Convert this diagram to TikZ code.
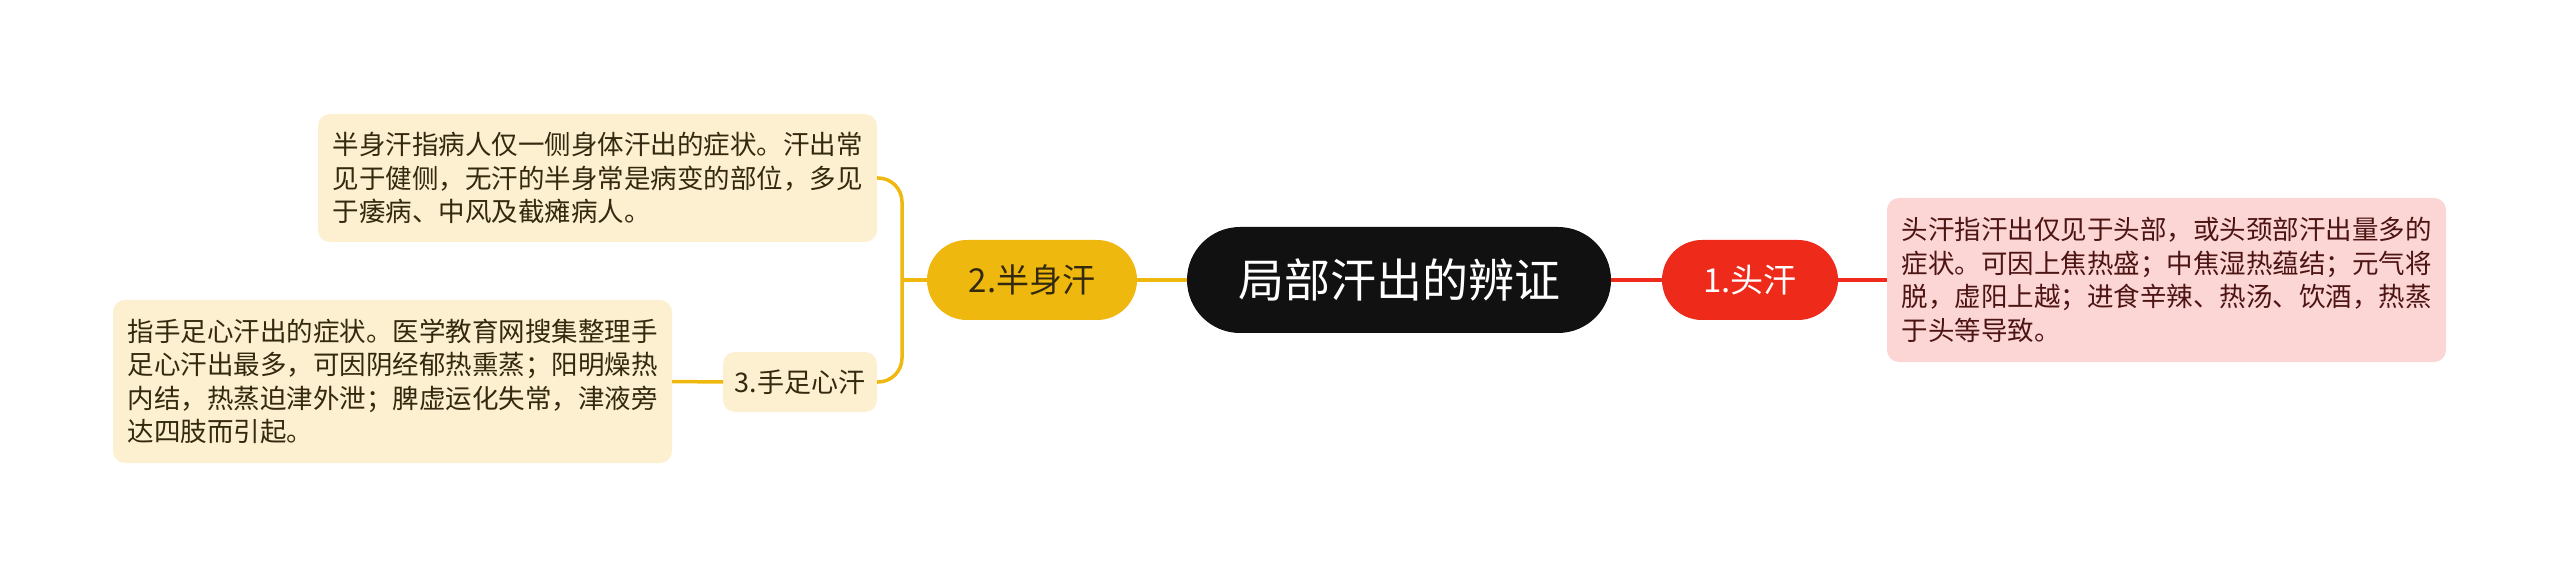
\documentclass[tikz,border=0pt]{standalone}
\usepackage{fontspec}
\setmainfont{Noto Sans CJK SC}
\usetikzlibrary{positioning}

\definecolor{rootblack}{HTML}{111111}
\definecolor{redbranch}{HTML}{EE2A1A}
\definecolor{redleaf}{HTML}{FCD6D4}
\definecolor{redtext}{HTML}{4D1414}
\definecolor{yellowbranch}{HTML}{EFB80E}
\definecolor{yellowleaf}{HTML}{FDF0D0}
\definecolor{yellowtext}{HTML}{33290F}

\begin{document}
\begin{tikzpicture}[x=1pt, y=-1pt,
  every node/.style={inner sep=0pt, outer sep=0pt},
  rootnode/.style={fill=rootblack, text=white, rounded corners=53pt, minimum width=424pt, minimum height=106pt, font=\fontsize{46}{52}\selectfont},
  mainnode/.style={rounded corners=40pt, minimum height=80pt, font=\fontsize{33}{38}\selectfont},
  subnode/.style={fill=yellowleaf, text=yellowtext, rounded corners=12pt, minimum width=154pt, minimum height=60pt, font=\fontsize{27}{32}\selectfont},
  leafbox/.style={rounded corners=12pt, minimum width=559pt, align=left, font=\fontsize{26.5}{33.5}\selectfont},
  redline/.style={draw=redbranch, line width=3.5pt},
  yellowline/.style={draw=yellowbranch, line width=3.5pt}]
  \useasboundingbox (0,0) rectangle (2560,577);

  \node[rootnode] (root) at (1399,280) {局部汗出的辨证};

  \node[mainnode, fill=redbranch, text=white, minimum width=176pt] (head) at (1750,280) {1.头汗};
  \node[leafbox, fill=redleaf, text=redtext, minimum height=164pt] (headtext) at (2166.5,280)
    {头汗指汗出仅见于头部，或头颈部汗出量多的\\
     症状。可因上焦热盛；中焦湿热蕴结；元气将\\
     脱，虚阳上越；进食辛辣、热汤、饮酒，热蒸\\
     于头等导致。};

  \node[mainnode, fill=yellowbranch, text=yellowtext, minimum width=210pt] (half) at (1032,280) {2.半身汗};
  \node[leafbox, fill=yellowleaf, text=yellowtext, minimum height=128pt] (halftext) at (597.5,178)
    {半身汗指病人仅一侧身体汗出的症状。汗出常\\
     见于健侧，无汗的半身常是病变的部位，多见\\
     于痿病、中风及截瘫病人。};

  \node[subnode] (palm) at (800,382) {3.手足心汗};
  \node[leafbox, fill=yellowleaf, text=yellowtext, minimum height=163pt] (palmtext) at (392.5,381.5)
    {指手足心汗出的症状。医学教育网搜集整理手\\
     足心汗出最多，可因阴经郁热熏蒸；阳明燥热\\
     内结，热蒸迫津外泄；脾虚运化失常，津液旁\\
     达四肢而引起。};

  \coordinate (fork) at ([xshift=-25pt]half.west);

  \draw[redline] (root.east) -- (head.west);
  \draw[redline] (head.east) -- (headtext.west);
  \draw[yellowline] (root.west) -- (half.east);
  \draw[yellowline] (half.west) -- (fork);
  \draw[yellowline, rounded corners=24pt] (halftext.east) -| (fork) |- (palm.east);
  \draw[yellowline] (palm.west) -- (palmtext.east);
\end{tikzpicture}
\end{document}
